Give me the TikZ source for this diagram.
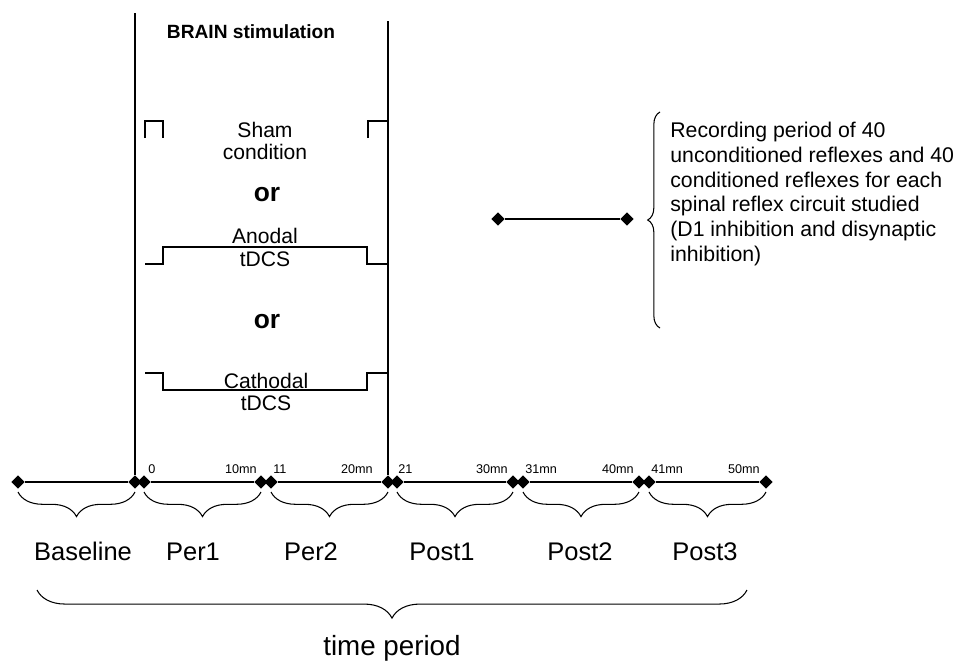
\documentclass[tikz,border=0pt]{standalone}
\usepackage{fontspec}
\setmainfont{Liberation Sans}
\usetikzlibrary{shapes.geometric,decorations.pathreplacing}

\begin{document}
\begin{tikzpicture}[x=0.02cm,y=-0.02cm,
  tick/.style={diamond,fill=black,inner sep=0pt,minimum width=0.27cm,minimum height=0.27cm},
  timeline/.style={line width=1.2pt},
  stimline/.style={line width=0.8pt},
  wave/.style={line width=0.7pt},
  curly/.style={decorate,line width=0.6pt,decoration={brace,amplitude=#1}},
  period/.style={font=\fontsize{14.5}{17}\selectfont,anchor=base},
  mins/.style={font=\fontsize{7.2}{8}\selectfont,inner sep=0pt},
  cond/.style={font=\fontsize{12}{12.7}\selectfont,align=center,inner sep=0pt},
  orword/.style={font=\fontsize{15}{17}\selectfont\bfseries,inner sep=0pt}]
  \useasboundingbox (0,0) rectangle (960,663);
  % time line with its six recording periods
  \foreach \i/\a/\b/\lab/\lx in {1/18/135/Baseline/83, 2/144/261/Per1/193, 3/271/388/Per2/311,
                                 4/397/513/Post1/442, 5/523/639/Post2/580, 6/649/766/Post3/705} {
    \node[tick] (s\i) at (\a,482) {};
    \node[tick] (e\i) at (\b,482) {};
    \draw[timeline] (s\i) -- (e\i);
    \draw[curly=14pt] (\b,492) -- (\a,492);
    \node[period] (p\i) at (\lx,560) {\lab};
  }
  \node[mins,anchor=west] (m0) at (148,469) {0};
  \node[mins,anchor=east] (m10) at (257,469) {10mn};
  \node[mins,anchor=west] (m11) at (273,469) {11};
  \node[mins,anchor=east] (m20) at (373,469) {20mn};
  \node[mins,anchor=west] (m21) at (398,469) {21};
  \node[mins,anchor=east] (m30) at (508,469) {30mn};
  \node[mins,anchor=west] (m31) at (525,469) {31mn};
  \node[mins,anchor=east] (m40) at (634,469) {40mn};
  \node[mins,anchor=west] (m41) at (651,469) {41mn};
  \node[mins,anchor=east] (m50) at (760,469) {50mn};
  \draw[curly=16pt] (747,590) -- (37,590);
  \node[font=\fontsize{15.8}{18}\selectfont] (tp) at (392,648) {time period};
  % stimulation window
  \coordinate (stimL) at (135,13);
  \coordinate (stimR) at (388,21);
  \draw[stimline] (stimL) -- (e1);
  \draw[stimline] (stimR) -- (e3);
  \node[font=\fontsize{10.9}{12}\selectfont\bfseries] (brain) at (251,32) {BRAIN stimulation};
  \draw[wave] (145,138) -- (145,121) -- (163,121) -- (163,138);
  \draw[wave] (368,138) -- (368,121) -- (388,121);
  \node[cond] (sham) at (265,141) {Sham\\condition};
  \node[orword] (or1) at (267,195) {or};
  \draw[wave] (145,264) -- (163,264) -- (163,247) -- (367,247) -- (367,264) -- (388,264);
  \node[cond] (anodal) at (265,247.5) {Anodal\\tDCS};
  \node[orword] (or2) at (267,322) {or};
  \draw[wave] (145,373) -- (163,373) -- (163,390) -- (367,390) -- (367,373) -- (388,373);
  \node[cond] (cathodal) at (266,392) {Cathodal\\tDCS};
  % recording period legend
  \node[tick] (r1) at (498,219) {};
  \node[tick] (r2) at (627,219) {};
  \draw[timeline] (r1) -- (r2);
  \draw[curly=7pt] (660,328) -- (660,112);
  \node[font=\fontsize{12.1}{14.2}\selectfont,align=left,anchor=west,inner sep=0pt] (rec) at (670,194)
    {Recording period of 40\\unconditioned reflexes and 40\\conditioned reflexes for each\\spinal reflex circuit studied\\(D1 inhibition and disynaptic\\inhibition)};
\end{tikzpicture}
\end{document}
